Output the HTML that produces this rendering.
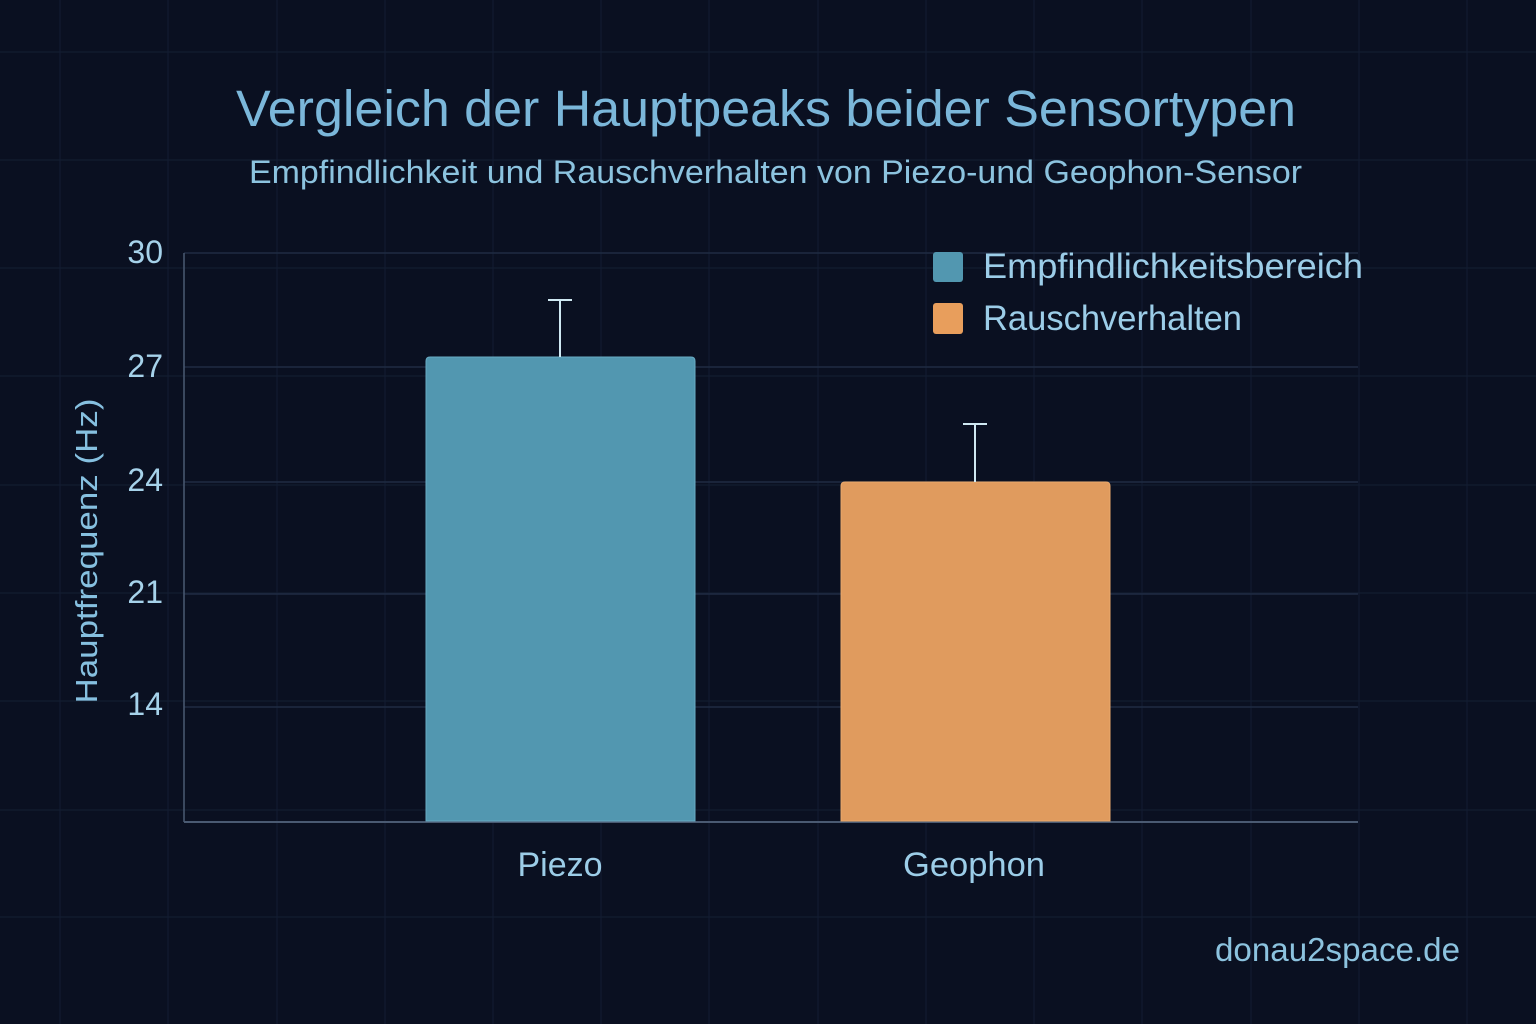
<!DOCTYPE html>
<html>
<head>
<meta charset="utf-8">
<style>
  html,body{margin:0;padding:0;background:#0a1021;}
  svg{display:block;}
  text{font-family:"Liberation Sans",sans-serif;}
</style>
</head>
<body>
<svg width="1536" height="1024" viewBox="0 0 1536 1024" xmlns="http://www.w3.org/2000/svg">
  <rect x="0" y="0" width="1536" height="1024" fill="#0a1021"/>
  <!-- background grid -->
  <g stroke="#131c31" stroke-width="1.2">
    <line x1="60" y1="0" x2="60" y2="1024"/>
    <line x1="168" y1="0" x2="168" y2="1024"/>
    <line x1="277" y1="0" x2="277" y2="1024"/>
    <line x1="385" y1="0" x2="385" y2="1024"/>
    <line x1="493" y1="0" x2="493" y2="1024"/>
    <line x1="601" y1="0" x2="601" y2="1024"/>
    <line x1="709" y1="0" x2="709" y2="1024"/>
    <line x1="818" y1="0" x2="818" y2="1024"/>
    <line x1="926" y1="0" x2="926" y2="1024"/>
    <line x1="1034" y1="0" x2="1034" y2="1024"/>
    <line x1="1142" y1="0" x2="1142" y2="1024"/>
    <line x1="1251" y1="0" x2="1251" y2="1024"/>
    <line x1="1359" y1="0" x2="1359" y2="1024"/>
    <line x1="1467" y1="0" x2="1467" y2="1024"/>
    <line x1="0" y1="52" x2="1536" y2="52"/>
    <line x1="0" y1="160" x2="1536" y2="160"/>
    <line x1="0" y1="268" x2="1536" y2="268"/>
    <line x1="0" y1="376" x2="1536" y2="376"/>
    <line x1="0" y1="485" x2="1536" y2="485"/>
    <line x1="0" y1="593" x2="1536" y2="593"/>
    <line x1="0" y1="701" x2="1536" y2="701"/>
    <line x1="0" y1="810" x2="1536" y2="810"/>
    <line x1="0" y1="917" x2="1536" y2="917"/>
  </g>

  <!-- title -->
  <text x="236" y="126" font-size="51" fill="#7bb7da" textLength="1060" lengthAdjust="spacingAndGlyphs">Vergleich der Hauptpeaks beider Sensortypen</text>
  <text x="249" y="183" font-size="32" fill="#8cc3df" textLength="1053" lengthAdjust="spacingAndGlyphs">Empfindlichkeit und Rauschverhalten von Piezo-und Geophon-Sensor</text>

  <!-- plot gridlines -->
  <g stroke="#1f2b42" stroke-width="1.5">
    <line x1="184" y1="253" x2="1358" y2="253"/>
    <line x1="184" y1="367" x2="1358" y2="367"/>
    <line x1="184" y1="482" x2="1358" y2="482"/>
    <line x1="184" y1="594" x2="1358" y2="594"/>
    <line x1="184" y1="707" x2="1358" y2="707"/>
  </g>
  <!-- axes -->
  <line x1="184" y1="253" x2="184" y2="822" stroke="#4a5a72" stroke-width="1.5"/>
  <line x1="184" y1="822" x2="1358" y2="822" stroke="#4a5a72" stroke-width="2"/>

  <!-- tick labels -->
  <g font-size="32" fill="#a6d2ea" text-anchor="end">
    <text x="163" y="263">30</text>
    <text x="163" y="377">27</text>
    <text x="163" y="491">24</text>
    <text x="163" y="603">21</text>
    <text x="163" y="715">14</text>
  </g>

  <!-- y axis label -->
  <text transform="translate(97,551) rotate(-90)" text-anchor="middle" font-size="31" fill="#86c0e0" textLength="305" lengthAdjust="spacingAndGlyphs">Hauptfrequenz (Hz)</text>

  <!-- bars -->
  <path d="M426 821 L426 361 Q426 357 430 357 L691 357 Q695 357 695 361 L695 821 Z" fill="#5297b0" stroke="#68abc4" stroke-width="1"/>
  <path d="M841 821 L841 486 Q841 482 845 482 L1106 482 Q1110 482 1110 486 L1110 821 Z" fill="#e09b5e" stroke="#eaa96c" stroke-width="1"/>

  <!-- error bars -->
  <g stroke="#cfe8f2" stroke-width="2">
    <line x1="560" y1="300" x2="560" y2="357"/>
    <line x1="548" y1="300" x2="572" y2="300"/>
    <line x1="975" y1="424" x2="975" y2="482"/>
    <line x1="963" y1="424" x2="987" y2="424"/>
  </g>

  <!-- x labels -->
  <g font-size="34" fill="#9ccde8" text-anchor="middle">
    <text x="560" y="876">Piezo</text>
    <text x="974" y="876" textLength="142" lengthAdjust="spacingAndGlyphs">Geophon</text>
  </g>

  <!-- legend -->
  <rect x="933" y="252" width="30" height="30" rx="3" fill="#5297b0"/>
  <rect x="933" y="303" width="30" height="31" rx="3" fill="#e89e5c"/>
  <text x="983" y="278" font-size="35" fill="#9ccde8" textLength="380" lengthAdjust="spacingAndGlyphs">Empfindlichkeitsbereich</text>
  <text x="983" y="330" font-size="35" fill="#9ccde8" textLength="259" lengthAdjust="spacingAndGlyphs">Rauschverhalten</text>

  <!-- footer -->
  <text x="1215" y="961" font-size="33" fill="#8cc3df" textLength="245" lengthAdjust="spacingAndGlyphs">donau2space.de</text>
</svg>
</body>
</html>
